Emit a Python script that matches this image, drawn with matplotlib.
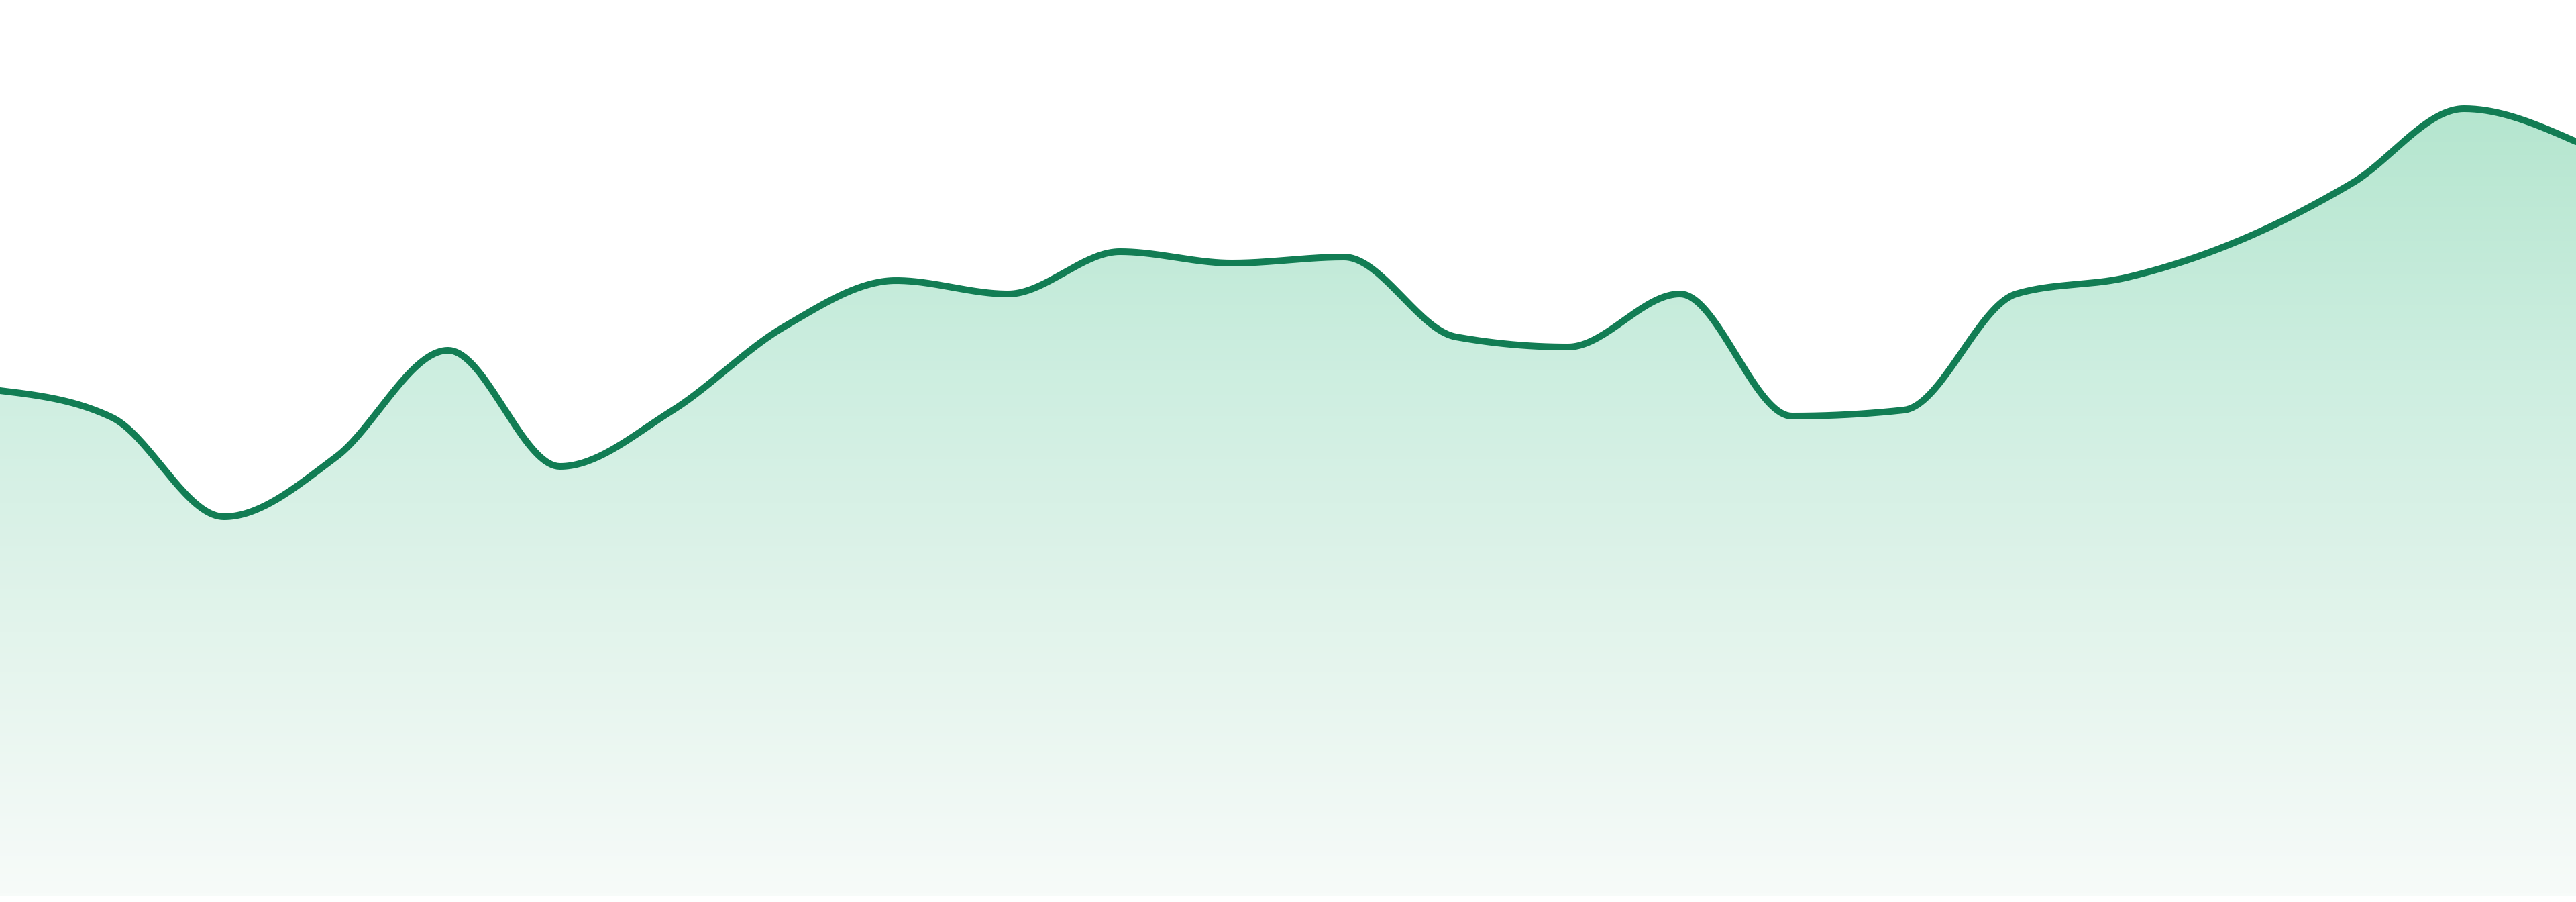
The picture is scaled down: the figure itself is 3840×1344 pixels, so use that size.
import numpy as np
import matplotlib
matplotlib.use("Agg")
import matplotlib.pyplot as plt
from matplotlib.colors import LinearSegmentedColormap

# one value per period
periods = list(range(24))
values = [75.3, 71.3, 56.5, 65.4, 81.3, 64.0, 72.3, 84.8, 91.7, 89.7, 96.0, 94.3,
          95.2, 83.3, 81.8, 89.7, 71.5, 72.4, 89.7, 92.2, 97.7, 106.2, 117.3, 112.4]

LINE = "#127d54"
Y_MAX = 133.5


def monotone_x(x, y, n=40):
    # same shape as d3.curveMonotoneX
    x = np.asarray(x, float)
    y = np.asarray(y, float)
    h = np.diff(x)
    s = np.diff(y) / h
    t = np.zeros_like(y)
    for i in range(1, len(y) - 1):
        s0, s1 = s[i - 1], s[i]
        p = (s0 * h[i] + s1 * h[i - 1]) / (h[i - 1] + h[i])
        t[i] = (np.sign(s0) + np.sign(s1)) * min(abs(s0), abs(s1), 0.5 * abs(p))
    t[0] = (3 * s[0] - t[1]) / 2
    t[-1] = (3 * s[-1] - t[-2]) / 2
    xs, ys = [], []
    for i in range(len(x) - 1):
        u = np.linspace(0, 1, n, endpoint=False)
        h00 = 2 * u**3 - 3 * u**2 + 1
        h10 = u**3 - 2 * u**2 + u
        h01 = -2 * u**3 + 3 * u**2
        h11 = u**3 - u**2
        xs.append(x[i] + u * h[i])
        ys.append(h00 * y[i] + h10 * h[i] * t[i] + h01 * y[i + 1] + h11 * h[i] * t[i + 1])
    xs.append([x[-1]])
    ys.append([y[-1]])
    return np.concatenate(xs), np.concatenate(ys)


fig = plt.figure(figsize=(19.2, 6.72), dpi=200)
ax = fig.add_axes([0, 9 / 1344, 1, 1335 / 1344])
ax.set_xlim(periods[0], periods[-1])
ax.set_ylim(0, Y_MAX)
ax.axis("off")

cx, cy = monotone_x(periods, values)

poly = ax.fill_between(cx, cy, 0, color="none", lw=0)
cmap = LinearSegmentedColormap.from_list("fade", ["#f7fbf9", "#e3f4ec", "#cdeee0", "#b5e6cf"])
grad = np.linspace(0, 1, 256).reshape(-1, 1)
im = ax.imshow(grad, cmap=cmap, aspect="auto", origin="lower",
               extent=[periods[0], periods[-1], 0, max(values)], zorder=1)
im.set_clip_path(poly.get_paths()[0], transform=ax.transData)

ax.plot(cx, cy, color=LINE, lw=3.6, solid_capstyle="round", zorder=3)

fig.savefig("out.png", dpi=200, facecolor="white")
